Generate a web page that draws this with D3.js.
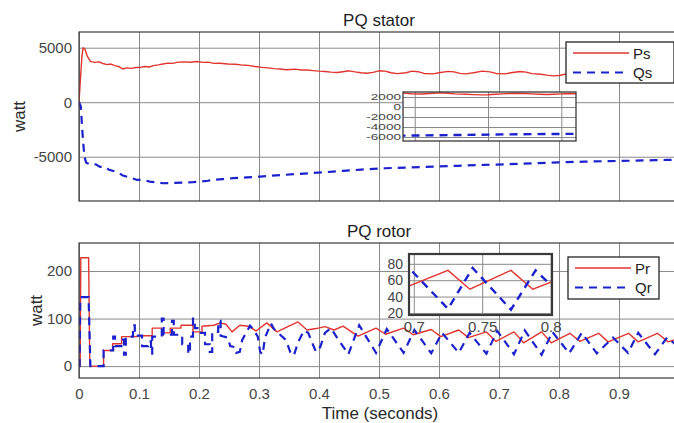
<!DOCTYPE html>
<html>
<head>
<meta charset="utf-8">
<script src="https://cdn.jsdelivr.net/npm/d3@7"></script>
<style>
  html, body { margin: 0; padding: 0; background: #fff; }
  svg { display: block; font-family: "Liberation Sans", Arial, sans-serif; }
</style>
</head>
<body>
<svg id="chart" width="674" height="423"></svg>
<script>
// ---- data ----------------------------------------------------------------
const timeTicks = [0, 0.1, 0.2, 0.3, 0.4, 0.5, 0.6, 0.7, 0.8, 0.9];
const timeTickLabels = ["0", "0.1", "0.2", "0.3", "0.4", "0.5", "0.6", "0.7", "0.8", "0.9"];
const statorTicks = [-5000, 0, 5000];
const rotorTicks = [0, 100, 200];
const statorZoomTicks = [2000, 0, -2000, -4000, -6000];
const rotorZoomTicks = [20, 40, 60, 80];
const rotorZoomTimeTicks = [0.7, 0.75, 0.8];
const rotorZoomTimeLabels = ["0.7", "0.75", "0.8"];

// stator active power Ps [t, W]
const statorP = [
  [0,0],[0.002,1800],[0.005,4300],[0.007,5000],[0.010,4850],[0.014,4200],[0.019,3750],
  [0.026,3650],[0.033,3700],[0.04,3550],[0.047,3450],[0.053,3500],[0.06,3350],[0.067,3250],
  [0.073,3050],[0.08,3150],[0.087,3100],[0.095,3180],[0.102,3200],[0.11,3280],[0.117,3230],
  [0.124,3360],[0.132,3420],[0.14,3500],[0.148,3580],[0.156,3560],[0.165,3680],[0.175,3700],
  [0.185,3660],[0.197,3740],[0.207,3650],[0.215,3680],[0.225,3560],[0.235,3580],[0.248,3500],
  [0.26,3480],[0.27,3420],[0.282,3380],[0.293,3280],[0.305,3200],[0.315,3150],[0.325,3080],
  [0.335,3050],[0.345,2980],[0.36,3030],[0.37,2950],[0.38,2960],[0.39,2900],[0.40,2850],
  [0.41,2820],[0.42,2760],[0.43,2720],[0.44,2800],[0.45,2880],[0.46,2780],[0.47,2700],
  [0.48,2660],[0.49,2740],[0.50,2880],[0.51,2850],[0.52,2700],[0.53,2620],[0.545,2700],
  [0.555,2850],[0.565,2800],[0.575,2640],[0.59,2600],[0.60,2700],[0.615,2830],[0.625,2780],
  [0.635,2650],[0.645,2600],[0.66,2720],[0.672,2850],[0.685,2780],[0.695,2640],[0.71,2600],
  [0.72,2700],[0.735,2820],[0.745,2760],[0.755,2620],[0.77,2560],[0.78,2480],[0.79,2420],
  [0.80,2450],[0.81,2560],[0.82,2620],[0.83,2700],[0.84,2760],[0.85,2700],[0.86,2620],
  [0.87,2560],[0.88,2500],[0.89,2560],[0.90,2620],[0.91,2700],[0.92,2650],[0.93,2580],
  [0.94,2650],[0.95,2720],[0.96,2800],[0.97,2850],[0.98,2870],[0.99,2900],[1.0,2920]
];

// stator reactive power Qs [t, VAr]
const statorQ = [
  [0,0],[0.003,-400],[0.006,-3000],[0.009,-5000],[0.012,-5550],[0.02,-5750],[0.028,-5700],
  [0.035,-5930],[0.043,-5900],[0.05,-6200],[0.06,-6350],[0.067,-6500],[0.073,-6730],
  [0.085,-6900],[0.097,-7130],[0.105,-7100],[0.118,-7280],[0.13,-7350],[0.14,-7430],
  [0.155,-7400],[0.173,-7370],[0.19,-7330],[0.202,-7280],[0.215,-7200],[0.223,-7130],
  [0.24,-7050],[0.257,-6970],[0.28,-6900],[0.302,-6820],[0.32,-6740],[0.34,-6670],
  [0.36,-6590],[0.385,-6510],[0.405,-6440],[0.423,-6370],[0.44,-6300],[0.47,-6180],
  [0.51,-6055],[0.55,-5980],[0.592,-5900],[0.63,-5830],[0.675,-5750],[0.715,-5680],
  [0.758,-5600],[0.80,-5520],[0.842,-5450],[0.885,-5400],[0.925,-5360],[0.96,-5320],
  [0.98,-5290],[1.0,-5270]
];

// rotor active power Pr [t, W]
const rotorP = [
  [0,0],[0.002,0],[0.003,228],[0.016,228],[0.018,0],[0.041,0],[0.041,33],[0.056,33],
  [0.056,47],[0.071,47],[0.071,62],[0.098,62],[0.098,64],[0.122,64],[0.122,80],[0.138,80],
  [0.138,70],[0.152,70],[0.152,80],[0.17,80],[0.17,86],[0.19,86],[0.19,72],[0.205,72],
  [0.205,84],[0.225,86],[0.235,91],[0.245,88],[0.255,72],[0.268,86],[0.282,84],[0.295,74],
  [0.313,91],[0.33,72],[0.348,83],[0.365,93],[0.38,76],[0.395,79],[0.41,83],[0.425,76],
  [0.44,84],[0.465,63],[0.495,80],[0.511,67],[0.541,80],[0.557,66],[0.587,77],[0.603,62],
  [0.633,76],[0.649,60],[0.679,72],[0.695,52],[0.725,72],[0.741,49],[0.771,72],[0.787,49],
  [0.818,69],[0.835,52],[0.866,69],[0.882,51],[0.916,69],[0.932,51],[0.964,69],[0.982,51],
  [1.0,58]
];

// rotor reactive power Qr [t, VAr]
const rotorQ = [
  [0,0],[0.001,0],[0.002,145],[0.016,145],[0.019,0],[0.041,0],[0.041,33],[0.057,33],
  [0.057,62],[0.06,62],[0.06,42],[0.073,42],[0.073,56],[0.075,56],[0.075,24],[0.078,24],
  [0.078,62],[0.09,62],[0.09,86],[0.093,86],[0.093,64],[0.105,64],[0.105,42],[0.115,42],
  [0.115,52],[0.12,52],[0.12,26],[0.122,26],[0.122,62],[0.138,62],[0.138,100],[0.141,100],
  [0.141,66],[0.155,66],[0.155,95],[0.158,95],[0.158,66],[0.172,66],[0.172,46],[0.182,46],
  [0.182,26],[0.185,26],[0.185,62],[0.19,62],[0.19,100],[0.193,100],[0.193,80],[0.2,80],
  [0.2,70],[0.21,70],[0.21,46],[0.218,46],[0.218,30],[0.222,30],[0.222,72],[0.232,72],
  [0.232,95],[0.236,95],[0.236,64],[0.248,60],[0.252,42],[0.26,40],[0.262,28],[0.268,30],
  [0.272,55],[0.285,85],[0.29,78],[0.298,62],[0.302,30],[0.306,24],[0.31,60],[0.32,90],
  [0.325,78],[0.33,72],[0.345,55],[0.352,30],[0.358,22],[0.365,50],[0.375,75],[0.382,70],
  [0.39,45],[0.395,30],[0.402,40],[0.41,70],[0.42,80],[0.43,60],[0.449,25],[0.467,86],
  [0.495,28],[0.513,78],[0.541,28],[0.559,76],[0.587,27],[0.605,70],[0.633,28],[0.651,70],
  [0.679,26],[0.697,74],[0.725,25],[0.743,75],[0.771,24],[0.789,72],[0.817,27],[0.838,70],
  [0.863,27],[0.89,60],[0.915,28],[0.932,70],[0.96,25],[0.98,60],[1.0,40]
];

// ---- styling --------------------------------------------------------------
const RED = "#e0362f";
const BLUE = "#1b22cc";
const GRID = "#8a8a8a";
const FRAME = "#3a3a3a";
const TEXT = "#454545";
const plain = d => String(d);   // plain integers with an ASCII hyphen for negatives

const svg = d3.select("#chart");

const x = d3.scaleLinear().domain([0, 1]).range([79, 679]);

function styleGrid(g) {
  g.select(".domain").remove();
  g.selectAll(".tick line").attr("stroke", GRID).attr("stroke-width", 1);
  g.selectAll(".tick text").attr("fill", TEXT);
}

function drawPanel(opts) {
  const [top, bottom] = opts.yRange;
  const y = d3.scaleLinear().domain(opts.yDomain).range([bottom, top]);
  const left = x.range()[0], right = x.range()[1];
  const g = svg.append("g");

  g.append("rect").attr("x", left).attr("y", top)
    .attr("width", right - left).attr("height", bottom - top).attr("fill", "#fff");

  // vertical grid + time labels
  const xa = d3.axisBottom(x).tickValues(timeTicks)
    .tickSize(-(bottom - top)).tickPadding(10)
    .tickFormat((d, i) => opts.showTime ? timeTickLabels[i] : "");
  g.append("g").attr("transform", `translate(0,${bottom})`).call(xa)
    .call(styleGrid)
    .call(s => s.selectAll(".tick text").attr("font-size", 15));

  // horizontal grid + value labels
  const ya = d3.axisLeft(y).tickValues(opts.yTicks).tickSize(-(right - left))
    .tickPadding(7).tickFormat(plain);
  g.append("g").attr("transform", `translate(${left},0)`).call(ya)
    .call(styleGrid)
    .call(s => s.selectAll(".tick text").attr("font-size", 15));

  const clipId = opts.id + "-clip";
  svg.append("clipPath").attr("id", clipId).append("rect")
    .attr("x", left).attr("y", top).attr("width", right - left).attr("height", bottom - top);

  const line = d3.line().x(d => x(d[0])).y(d => y(d[1]));
  const lines = g.append("g").attr("clip-path", `url(#${clipId})`);
  lines.append("path").datum(opts.p).attr("d", line)
    .attr("fill", "none").attr("stroke", RED).attr("stroke-width", 1.4)
    .attr("stroke-linejoin", "round");
  lines.append("path").datum(opts.q).attr("d", line)
    .attr("fill", "none").attr("stroke", BLUE).attr("stroke-width", 2.2)
    .attr("stroke-dasharray", "8,6");

  g.append("rect").attr("x", left).attr("y", top)
    .attr("width", right - left).attr("height", bottom - top)
    .attr("fill", "none").attr("stroke", FRAME).attr("stroke-width", 1.2);

  g.append("text").attr("x", 379).attr("y", top - 6)
    .attr("text-anchor", "middle").attr("font-size", 17).attr("fill", "#1e1e1e")
    .text(opts.title);

  g.append("text")
    .attr("transform", `translate(${opts.labelX},${(top + bottom) / 2}) rotate(-90)`)
    .attr("text-anchor", "middle").attr("font-size", 17).attr("fill", "#2a2a2a")
    .text("watt");

  return { y, g };
}

function drawZoom(opts) {
  const [x0, x1] = opts.xRange, [y0, y1] = opts.yRange;
  const zx = d3.scaleLinear().domain(opts.xDomain).range([x0, x1]);
  const zy = d3.scaleLinear().domain(opts.yDomain).range([y1, y0]);
  const g = svg.append("g");

  g.append("rect").attr("x", x0).attr("y", y0)
    .attr("width", x1 - x0).attr("height", y1 - y0).attr("fill", "#fff");

  const xa = d3.axisBottom(zx).tickValues(opts.xTicks).tickSize(-(y1 - y0)).tickPadding(6)
    .tickFormat((d, i) => opts.xLabels ? opts.xLabels[i] : "");
  g.append("g").attr("transform", `translate(0,${y1})`).call(xa)
    .call(styleGrid)
    .call(s => s.selectAll(".tick text").attr("font-size", 15));

  const ya = d3.axisLeft(zy).tickValues(opts.yTicks).tickSize(-(x1 - x0))
    .tickPadding(opts.yPad).tickFormat(plain);
  g.append("g").attr("transform", `translate(${x0},0)`).call(ya)
    .call(styleGrid)
    .call(s => s.selectAll(".tick text")
      .attr("font-size", opts.yFont)
      .attr("x", -opts.yPad / opts.yStretch)
      .attr("transform", `scale(${opts.yStretch},1)`));

  const clipId = opts.id + "-clip";
  svg.append("clipPath").attr("id", clipId).append("rect")
    .attr("x", x0).attr("y", y0).attr("width", x1 - x0).attr("height", y1 - y0);

  const line = d3.line().x(d => zx(d[0])).y(d => zy(d[1]));
  const lines = g.append("g").attr("clip-path", `url(#${clipId})`);
  lines.append("path").datum(opts.p).attr("d", line)
    .attr("fill", "none").attr("stroke", RED).attr("stroke-width", 1.4);
  lines.append("path").datum(opts.q).attr("d", line)
    .attr("fill", "none").attr("stroke", BLUE).attr("stroke-width", 2.4)
    .attr("stroke-dasharray", "8,6");

  g.append("rect").attr("x", x0).attr("y", y0)
    .attr("width", x1 - x0).attr("height", y1 - y0)
    .attr("fill", "none").attr("stroke", FRAME).attr("stroke-width", opts.frame);
}

function drawLegend(lx, ly, w, h, names) {
  const g = svg.append("g");
  g.append("rect").attr("x", lx).attr("y", ly).attr("width", w).attr("height", h)
    .attr("fill", "#fff").attr("stroke", "#262626").attr("stroke-width", 1.3);
  const rows = [
    { name: names[0], color: RED, width: 1.4, dash: null },
    { name: names[1], color: BLUE, width: 2.2, dash: "8,6" }
  ];
  rows.forEach((r, i) => {
    const yy = ly + 11 + i * 19.5;
    g.append("line").attr("x1", lx + 7).attr("x2", lx + 63).attr("y1", yy).attr("y2", yy)
      .attr("stroke", r.color).attr("stroke-width", r.width)
      .attr("stroke-dasharray", r.dash);
    g.append("text").attr("x", lx + 67).attr("y", yy + 5.5)
      .attr("font-size", 15).attr("fill", "#222").text(r.name);
  });
}

// ---- stator panel ---------------------------------------------------------
drawPanel({
  id: "stator", title: "PQ stator", yRange: [32, 201], yDomain: [-9060, 6440],
  yTicks: statorTicks, p: statorP, q: statorQ, showTime: false, labelX: 25
});
drawZoom({
  id: "statorZoom", xRange: [403, 576], yRange: [92, 141],
  xDomain: [0.684, 0.92], yDomain: [-6800, 3000],
  xTicks: [0.7, 0.8, 0.9], xLabels: null, yTicks: statorZoomTicks, yPad: 2,
  yFont: 8.5, yStretch: 1.6,
  p: statorP, q: statorQ, frame: 1.3
});
drawLegend(566, 42, 108, 41, ["Ps", "Qs"]);

// ---- rotor panel ----------------------------------------------------------
drawPanel({
  id: "rotor", title: "PQ rotor", yRange: [243, 378], yDomain: [-25, 259],
  yTicks: rotorTicks, p: rotorP, q: rotorQ, showTime: true, labelX: 42
});
drawZoom({
  id: "rotorZoom", xRange: [409, 552], yRange: [254, 315],
  xDomain: [0.6965, 0.801], yDomain: [17.5, 92],
  xTicks: rotorZoomTimeTicks, xLabels: rotorZoomTimeLabels, yTicks: rotorZoomTicks, yPad: 6,
  yFont: 14, yStretch: 1,
  p: rotorP, q: rotorQ, frame: 2.2
});
drawLegend(568, 257, 91, 42, ["Pr", "Qr"]);

svg.append("text").attr("x", 380).attr("y", 419).attr("text-anchor", "middle")
  .attr("font-size", 17).attr("fill", "#2a2a2a").text("Time (seconds)");
</script>
</body>
</html>
